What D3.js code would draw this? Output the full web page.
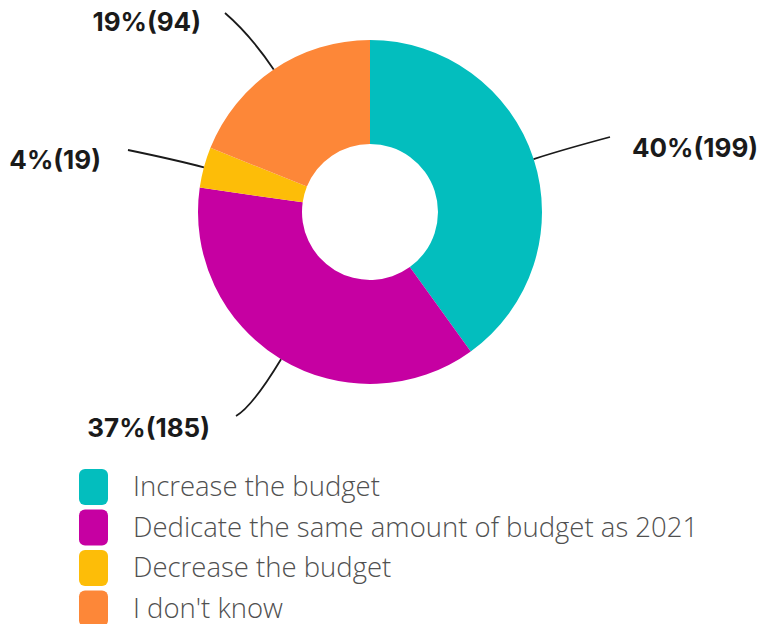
<!DOCTYPE html>
<html>
<head>
<meta charset="utf-8">
<script src="https://cdn.jsdelivr.net/npm/d3@7"></script>
<style>
  html, body { margin: 0; padding: 0; background: #fff; }
  svg { display: block; }
</style>
</head>
<body>
<svg id="chart" width="761" height="624"></svg>
<script>
// Survey answers: plans for the budget compared with 2021
const categories = [
  "Increase the budget",
  "Dedicate the same amount of budget as 2021",
  "Decrease the budget",
  "I don't know"
];
const counts = [199, 185, 19, 94];
const colors = ["#03BEBE", "#C600A2", "#FDBD08", "#FD8738"];

// Label placement around the donut: text anchor point, alignment,
// where the leader line ends, and how far its bend reaches past the rim
const labelLayout = [
  { x: 632, y: 148, anchor: "start", ex: 610, ey: 137, bend: 30 },
  { x: 210, y: 428, anchor: "end",   ex: 236, ey: 416, bend: 55 },
  { x: 101, y: 160, anchor: "end",   ex: 128, ey: 150, bend: 28 },
  { x: 201, y: 22,  anchor: "end",   ex: 225, ey: 13,  bend: 42 }
];

const svg = d3.select("#chart");
const cx = 370, cy = 212, outerR = 172, innerR = 68;
const total = d3.sum(counts);

const data = categories.map((c, i) => ({ name: c, value: counts[i], color: colors[i], i }));

const pie = d3.pie().value(d => d.value).sort(null);
const arc = d3.arc().innerRadius(innerR).outerRadius(outerR);
const arcs = pie(data);

const g = svg.append("g").attr("transform", `translate(${cx},${cy})`);

g.selectAll("path.slice")
  .data(arcs)
  .join("path")
  .attr("class", "slice")
  .attr("d", arc)
  .attr("fill", d => d.data.color);

// Leader lines from the outer edge of each slice to its label
const polar = (r, a) => [r * Math.sin(a), -r * Math.cos(a)];
g.selectAll("path.leader")
  .data(arcs)
  .join("path")
  .attr("class", "leader")
  .attr("fill", "none")
  .attr("stroke", "#1a1a1a")
  .attr("stroke-width", 1.8)
  .attr("d", d => {
    const L = labelLayout[d.data.i];
    const mid = (d.startAngle + d.endAngle) / 2;
    const p0 = polar(outerR, mid);
    const p1 = polar(outerR + L.bend, mid);
    return `M${p0[0]},${p0[1]}Q${p1[0]},${p1[1]} ${L.ex - cx},${L.ey - cy}`;
  });

// Percentage and count labels
svg.selectAll("text.val")
  .data(arcs)
  .join("text")
  .attr("class", "val")
  .attr("x", d => labelLayout[d.data.i].x)
  .attr("y", d => labelLayout[d.data.i].y)
  .attr("dy", "0.35em")
  .attr("text-anchor", d => labelLayout[d.data.i].anchor)
  .attr("font-family", "Inter, 'Open Sans', sans-serif")
  .attr("font-weight", 700)
  .attr("font-size", 26)
  .attr("fill", "#1a1a1a")
  .text(d => `${Math.round(d.data.value / total * 100)}%(${d.data.value})`);

// Legend
const legend = svg.append("g").attr("transform", "translate(79,469)");
const rowH = 40.5;
const rows = legend.selectAll("g.row")
  .data(data)
  .join("g")
  .attr("class", "row")
  .attr("transform", (d, i) => `translate(0,${i * rowH})`);

rows.append("rect")
  .attr("width", 29)
  .attr("height", 36)
  .attr("rx", 6)
  .attr("fill", d => d.color);

rows.append("text")
  .attr("x", 54)
  .attr("y", 27)
  .attr("font-family", "'Open Sans', sans-serif")
  .attr("font-weight", 300)
  .attr("font-size", 27.5)
  .attr("fill", "#505050")
  .text(d => d.name);
</script>
</body>
</html>
